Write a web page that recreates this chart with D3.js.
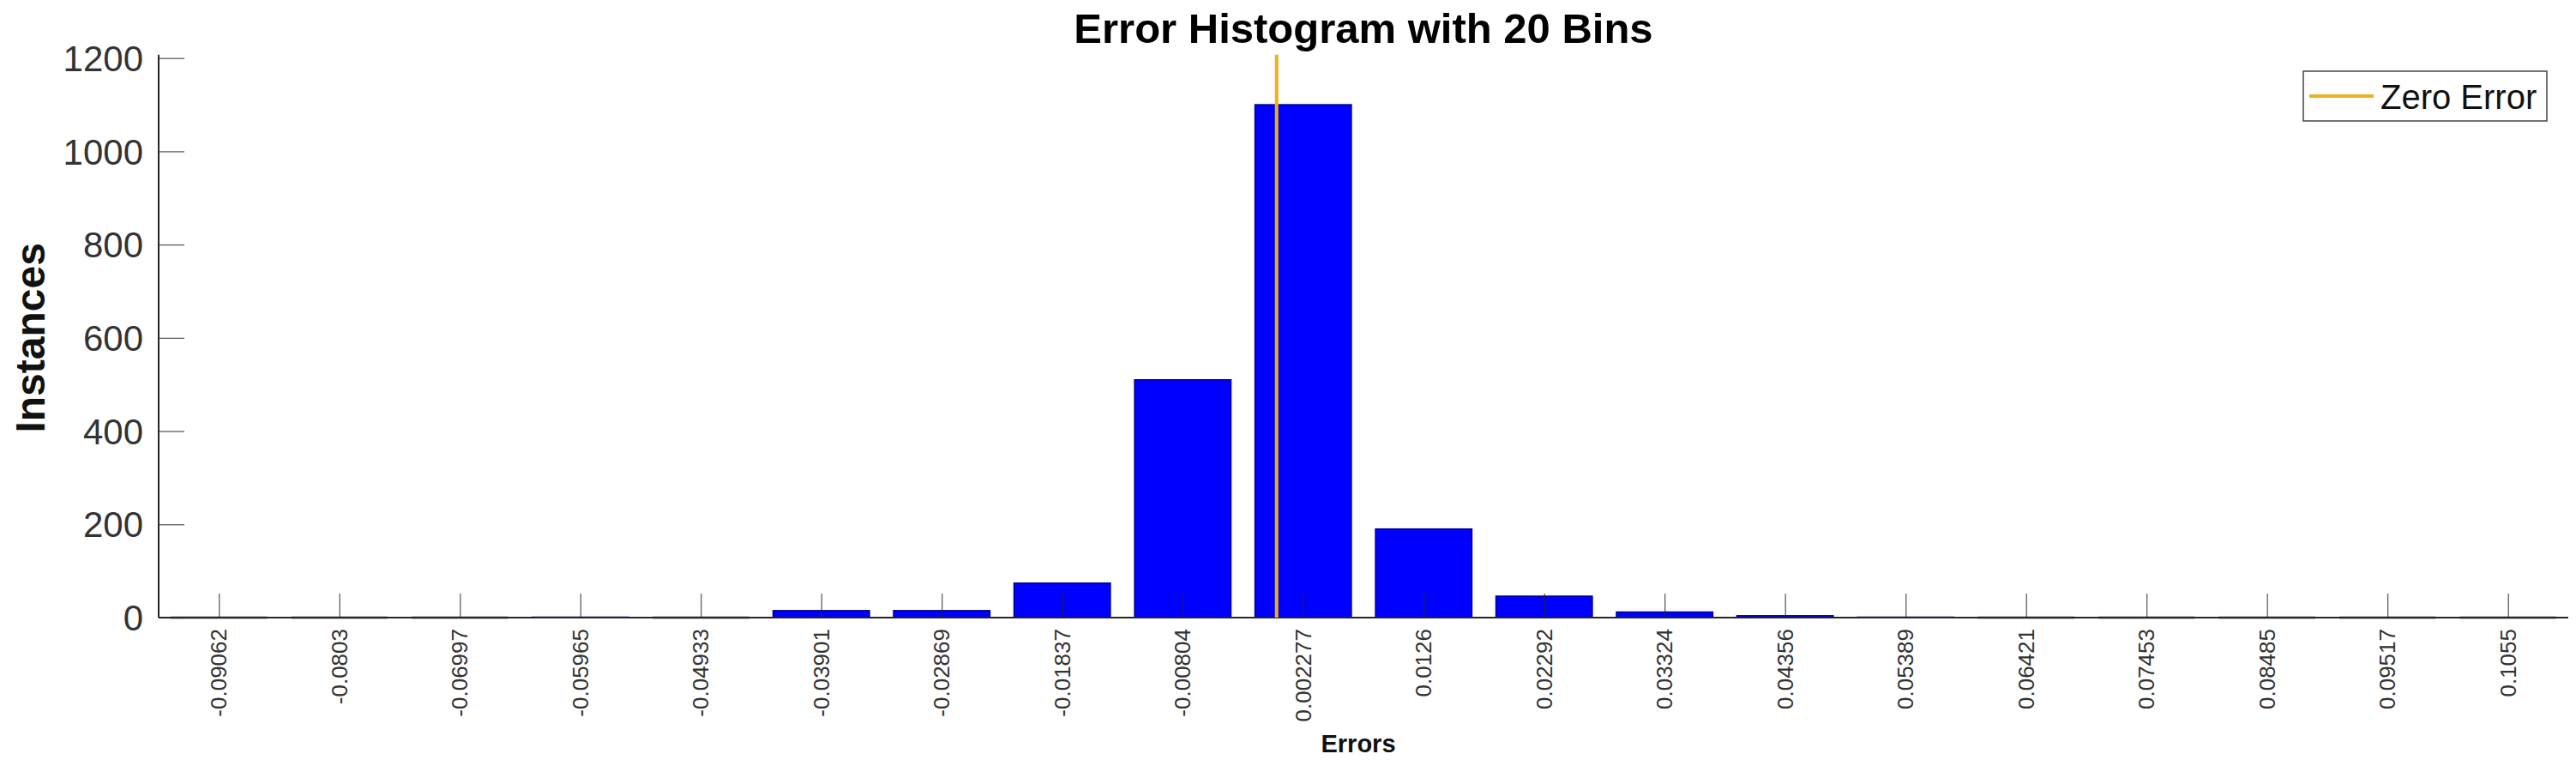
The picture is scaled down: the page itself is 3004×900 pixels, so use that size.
<!DOCTYPE html>
<html>
<head>
<meta charset="utf-8">
<script src="https://cdn.jsdelivr.net/npm/d3@7"></script>
<style>
  html, body { margin: 0; padding: 0; background: #fff; }
  svg { display: block; font-family: "Liberation Sans", Arial, sans-serif; }
</style>
</head>
<body>
<svg id="chart" width="3004" height="900"></svg>
<script>
// ---- data ----
const binLabels = ["-0.09062","-0.0803","-0.06997","-0.05965","-0.04933","-0.03901","-0.02869","-0.01837","-0.00804","0.002277","0.0126","0.02292","0.03324","0.04356","0.05389","0.06421","0.07453","0.08485","0.09517","0.1055"];
const counts = [0, 0, 0, 1, 0, 15, 15, 74, 510, 1100, 190, 46, 12, 4, 1, 0, 0, 0, 0, 0];
const yTicks = [0, 200, 400, 600, 800, 1000, 1200];
const zeroError = [0];
const titleText = "Error Histogram with 20 Bins";
const xLabel = "Errors";
const yLabel = "Instances";
const legendText = "Zero Error";

// ---- layout ----
const svg = d3.select("#chart");
const plotLeft = 185, plotRight = 2995, plotTop = 67.7, plotBottom = 720;

const centers = binLabels.map(Number);
const binW = (centers[centers.length - 1] - centers[0]) / (centers.length - 1);

const x = d3.scaleLinear()
  .domain([centers[0] - binW / 2, centers[centers.length - 1] + binW / 2])
  .range([plotLeft, plotRight]);
const y = d3.scaleLinear().domain([0, 1200]).range([plotBottom, plotTop]);

const axisColor = "#262626";

// bars
const barW = x(binW * 0.8) - x(0);
svg.append("g").selectAll("rect")
  .data(counts)
  .join("rect")
  .attr("x", (d, i) => x(centers[i]) - barW / 2)
  .attr("y", d => y(d))
  .attr("width", barW)
  .attr("height", d => y(0) - y(d))
  .attr("fill", "#0000ff")
  .attr("stroke", "#00008b")
  .attr("stroke-width", 1.5);

// zero-height bins: flat edge line on the baseline
svg.append("g").selectAll("line")
  .data(counts.map((c, i) => ({c, i})).filter(d => d.c === 0))
  .join("line")
  .attr("x1", d => x(centers[d.i]) - barW / 2)
  .attr("x2", d => x(centers[d.i]) + barW / 2)
  .attr("y1", y(0)).attr("y2", y(0))
  .attr("stroke", "#1a1a1a").attr("stroke-width", 2.5);

// y axis
const yAxis = d3.axisRight(y).tickValues(yTicks).tickSize(30).tickFormat("");
const gy = svg.append("g").attr("transform", `translate(${plotLeft},0)`).call(yAxis);
gy.select(".domain").remove();
gy.selectAll(".tick line").attr("stroke", axisColor).attr("stroke-width", 1.2).attr("opacity", 0.8);
svg.append("line")
  .attr("x1", plotLeft).attr("x2", plotLeft).attr("y1", y(1200) - 4).attr("y2", y(0))
  .attr("stroke", axisColor).attr("stroke-width", 2);

// y tick labels
svg.append("g").selectAll("text")
  .data(yTicks)
  .join("text")
  .attr("x", 167)
  .attr("y", d => y(d))
  .attr("dy", "0.36em")
  .attr("text-anchor", "end")
  .attr("font-size", 42)
  .attr("fill", "#333")
  .text(d => d);

// x axis
const xAxis = d3.axisTop(x).tickValues(centers).tickSize(28).tickFormat("");
const gx = svg.append("g").attr("transform", `translate(0,${plotBottom})`).call(xAxis);
gx.select(".domain").remove();
gx.selectAll(".tick line").attr("stroke", axisColor).attr("stroke-width", 1.2).attr("opacity", 0.8);
svg.append("line")
  .attr("x1", plotLeft).attr("x2", plotRight).attr("y1", y(0)).attr("y2", y(0))
  .attr("stroke", axisColor).attr("stroke-width", 2);

// x tick labels (rotated)
svg.append("g").selectAll("text")
  .data(binLabels)
  .join("text")
  .attr("transform", (d, i) => `translate(${x(centers[i])},733) rotate(-90)`)
  .attr("dy", "0.35em")
  .attr("text-anchor", "end")
  .attr("font-size", 26)
  .attr("fill", "#333")
  .text(d => d);

// zero error line
svg.append("g").selectAll("line")
  .data(zeroError)
  .join("line")
  .attr("x1", d => x(d)).attr("x2", d => x(d))
  .attr("y1", y(1200) - 4).attr("y2", y(0))
  .attr("stroke", "#EDB120").attr("stroke-width", 4);

// title
svg.append("text")
  .attr("x", (plotLeft + plotRight) / 2).attr("y", 50)
  .attr("text-anchor", "middle")
  .attr("font-size", 49).attr("font-weight", "bold").attr("fill", "#000")
  .text(titleText);

// x label
svg.append("text")
  .attr("x", 1584).attr("y", 877)
  .attr("text-anchor", "middle")
  .attr("font-size", 29).attr("font-weight", "bold").attr("fill", "#111")
  .text(xLabel);

// y label
svg.append("text")
  .attr("transform", `translate(52,${(plotTop + plotBottom) / 2}) rotate(-90)`)
  .attr("text-anchor", "middle")
  .attr("font-size", 48).attr("font-weight", "bold").attr("fill", "#111")
  .text(yLabel);

// legend
const lg = svg.append("g");
lg.append("rect")
  .attr("x", 2686).attr("y", 83).attr("width", 284).attr("height", 58)
  .attr("fill", "#fff").attr("stroke", "#444").attr("stroke-width", 1.5);
lg.append("line")
  .attr("x1", 2693).attr("x2", 2768).attr("y1", 112).attr("y2", 112)
  .attr("stroke", "#EDB120").attr("stroke-width", 4);
lg.append("text")
  .attr("x", 2776).attr("y", 127)
  .attr("font-size", 40).attr("fill", "#111")
  .text(legendText);
</script>
</body>
</html>
